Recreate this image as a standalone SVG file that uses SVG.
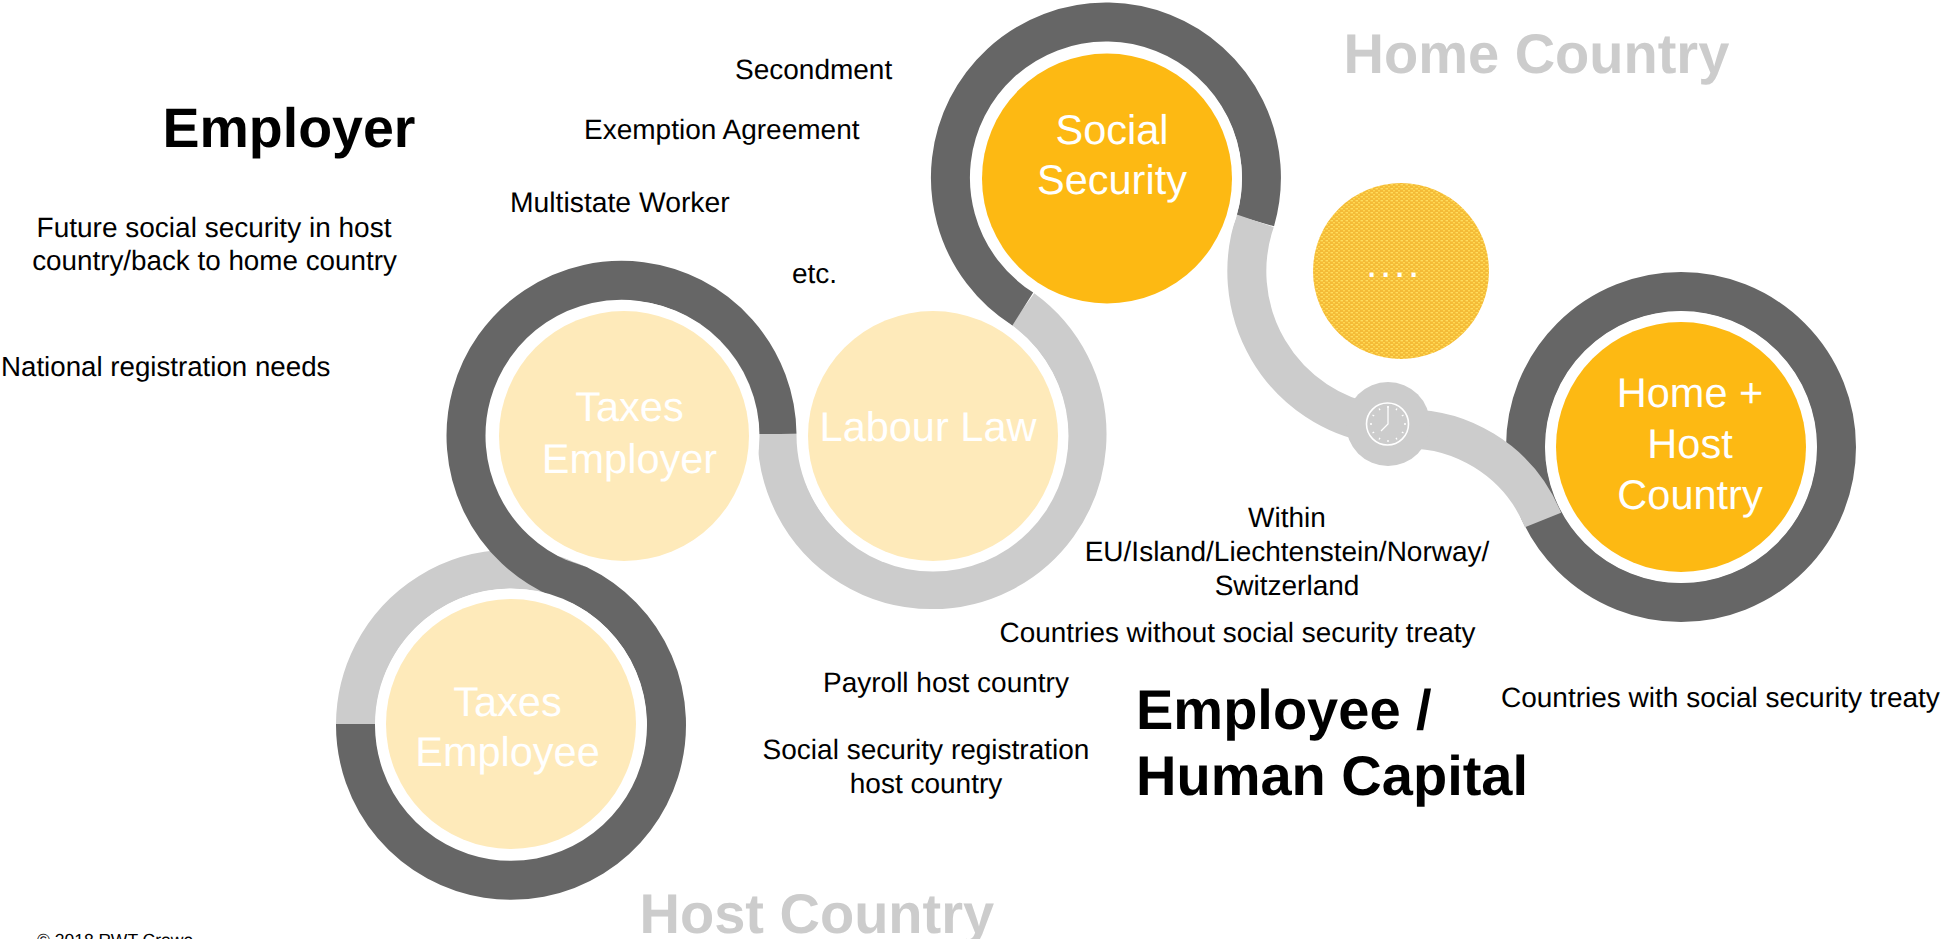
<svg xmlns="http://www.w3.org/2000/svg" width="1947" height="939" viewBox="0 0 1947 939">
<style>
text{font-family:"Liberation Sans",Arial,sans-serif;fill:#000;text-rendering:geometricPrecision}
.b{font-size:28px}
.h{font-size:56px;font-weight:700}
.g{fill:#ccc}
.m{text-anchor:middle}
.n{font-size:41.5px;fill:#fff;text-anchor:middle}
.dk,.lt{fill:none;stroke-width:39}
.dk{stroke:#666}
.lt{stroke:#ccc}
.halo{fill:#fff}
.sat{fill:#fdb913}
.pale{fill:#feeaba}
.t{stroke:#fff;stroke-width:1.3;fill:none}
</style>
<defs>
<pattern id="weave" width="5" height="4" patternUnits="userSpaceOnUse">
<rect width="5" height="4" fill="#f4ba36"/>
<rect x="0.500" y="0" width="2.500" height="1.400" fill="#ffdd5e"/>
<rect x="3" y="2" width="2" height="1.400" fill="#ffd850"/>
</pattern>
</defs>
<g id="connectors">
<path class="lt" d="M355.500 724A155.500 155.500 0 0 1 579 585"/>
<path class="dk" d="M777 434A155.500 155.500 0 1 0 560 578.600L579 585A155.500 155.500 0 1 1 355.500 724"/>
<path class="lt" d="M1022.800 309A155 155 0 1 1 777 434"/>
<path class="dk" d="M1255.300 220.800A155.500 155.500 0 1 0 1022.800 309"/>
<circle class="dk" cx="1681" cy="447" r="155.500"/>
<path class="lt" d="M1255.300 220.800A155 155 0 0 0 1375 424"/>
<path class="lt" d="M1395 429.500A146 146 0 0 1 1543 520"/>
</g>
<g id="taxes-employee">
<circle class="halo" cx="511" cy="724" r="135.500"/><circle class="pale" cx="511" cy="724" r="125"/>
<text class="n" x="507.500" y="716">Taxes</text><text class="n" x="507.500" y="766">Employee</text>
</g>
<g id="taxes-employer">
<circle class="halo" cx="624" cy="436" r="135.500"/><circle class="pale" cx="624" cy="436" r="125"/>
<text class="n" x="629.500" y="421">Taxes</text><text class="n" x="629.500" y="473">Employer</text>
</g>
<g id="labour-law">
<circle class="halo" cx="933" cy="436" r="135.500"/><circle class="pale" cx="933" cy="436" r="125"/>
<text class="n" x="928" y="441">Labour Law</text>
</g>
<g id="social-security">
<circle class="halo" cx="1107" cy="178.500" r="135"/><circle class="sat" cx="1107" cy="178.500" r="125"/>
<text class="n" x="1112" y="143.500">Social</text><text class="n" x="1112" y="194">Security</text>
</g>
<g id="home-host-country">
<circle class="halo" cx="1681" cy="447" r="135.500"/><circle class="sat" cx="1681" cy="447" r="125"/>
<text class="n" x="1690" y="407">Home +</text><text class="n" x="1690" y="458">Host</text><text class="n" x="1690" y="509">Country</text>
</g>
<g id="dotted-circle">
<circle cx="1401" cy="271" r="88" fill="url(#weave)"/>
<text x="1366" y="277" style="font-size:41px;fill:#fff;letter-spacing:2.600px">....</text>
</g>
<g id="clock">
<circle cx="1388" cy="424" r="42" fill="#ccc"/>
<circle cx="1387.500" cy="424" r="21" fill="none" stroke="#fff" stroke-width="1.600"/>
<path class="t" d="M1388 406V424L1381 431"/>
<path class="t" d="M1388 406v2M1397 408.500l-1 1.700M1403.500 415l-1.700 1M1406 424h-2M1403.500 433l-1.700-1M1397 439.500l-1-1.700M1388 442v-2M1379 439.500l1-1.700M1372.500 433l1.700-1M1370 424h2M1372.500 415l1.700 1M1379 408.500l1 1.700"/>
</g>
<g id="labels">
<text class="h" x="162.500" y="147" style="font-size:55.500px">Employer</text>
<text class="b m" x="214" y="237">Future social security in host</text>
<text class="b m" x="214.500" y="270" style="font-size:27.800px">country/back to home country</text>
<text class="b" x="1" y="376" style="font-size:27.700px">National registration needs</text>
<text class="b" x="735" y="79">Secondment</text>
<text class="b" x="584" y="139">Exemption Agreement</text>
<text class="b" x="510" y="212" style="font-size:28.300px">Multistate Worker</text>
<text class="b" x="792" y="283">etc.</text>
<text class="b m" x="1287" y="527">Within</text>
<text class="b m" x="1287" y="561">EU/Island/Liechtenstein/Norway/</text>
<text class="b m" x="1287" y="595">Switzerland</text>
<text class="b" x="999.500" y="642" style="font-size:27.900px">Countries without social security treaty</text>
<text class="b" x="823" y="692">Payroll host country</text>
<text class="b m" x="926" y="759">Social security registration</text>
<text class="b m" x="926" y="793">host country</text>
<text class="b" x="1501" y="707">Countries with social security treaty</text>
<text class="h" x="1136" y="729">Employee /</text>
<text class="h" x="1136" y="795">Human Capital</text>
<text class="h g" x="1343.500" y="73">Home Country</text>
<text class="h g" x="639.500" y="933">Host Country</text>
<text x="37" y="946" style="font-size:17.500px">© 2018 RWT Crowe</text>
</g>
</svg>
